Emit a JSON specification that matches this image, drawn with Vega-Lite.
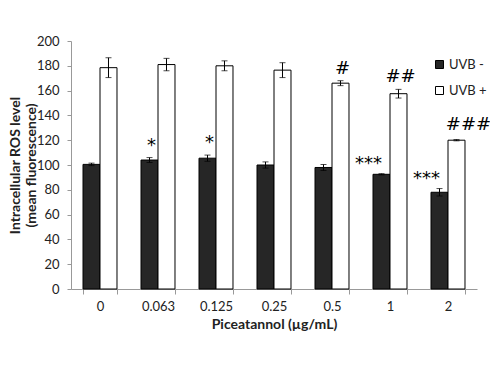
{
  "$schema": "https://vega.github.io/schema/vega-lite/v6.json",
  "autosize": {"type": "none"},
  "padding": {"left": 71, "top": 41, "right": 13, "bottom": 80},
  "width": 406,
  "height": 248,
  "background": "white",
  "config": {
    "font": "Lato",
    "view": {"stroke": null},
    "axis": {"grid": false, "labelFont": "Lato", "titleFont": "Lato", "labelColor": "#222", "titleColor": "#222", "domainColor": "#999", "tickColor": "#999", "labelOverlap": false}
  },
  "data": {
    "values": [
      {"conc": "0", "uvb": "UVB -", "mean": 100.5, "lo": 99.5, "hi": 101.5, "sig": ""},
      {"conc": "0.063", "uvb": "UVB -", "mean": 104, "lo": 102, "hi": 106, "sig": "*"},
      {"conc": "0.125", "uvb": "UVB -", "mean": 105.5, "lo": 103, "hi": 108, "sig": "*"},
      {"conc": "0.25", "uvb": "UVB -", "mean": 100, "lo": 97.5, "hi": 102.5, "sig": ""},
      {"conc": "0.5", "uvb": "UVB -", "mean": 98, "lo": 95.6, "hi": 100.4, "sig": ""},
      {"conc": "1", "uvb": "UVB -", "mean": 92.5, "lo": 92, "hi": 93, "sig": "***"},
      {"conc": "2", "uvb": "UVB -", "mean": 78, "lo": 75, "hi": 81, "sig": "***"},
      {"conc": "0", "uvb": "UVB +", "mean": 178.5, "lo": 170.5, "hi": 186.5, "sig": ""},
      {"conc": "0.063", "uvb": "UVB +", "mean": 181, "lo": 176, "hi": 186, "sig": ""},
      {"conc": "0.125", "uvb": "UVB +", "mean": 180, "lo": 176, "hi": 184, "sig": ""},
      {"conc": "0.25", "uvb": "UVB +", "mean": 176.5, "lo": 170.5, "hi": 182.5, "sig": ""},
      {"conc": "0.5", "uvb": "UVB +", "mean": 166, "lo": 164, "hi": 168, "sig": "#"},
      {"conc": "1", "uvb": "UVB +", "mean": 157.5, "lo": 154, "hi": 161, "sig": "##"},
      {"conc": "2", "uvb": "UVB +", "mean": 120, "lo": 119.5, "hi": 120.5, "sig": "###"}
    ]
  },
  "encoding": {
    "x": {
      "field": "conc", "type": "nominal", "sort": ["0", "0.063", "0.125", "0.25", "0.5", "1", "2"],
      "scale": {"paddingInner": 0.414, "paddingOuter": 0.207},
      "axis": {"title": "Piceatannol (µg/mL)", "labelAngle": 0, "labelFontSize": 13, "labelPadding": 6, "tickBand": "extent", "tickSize": 5, "titleFontSize": 14, "titleFontWeight": "bold", "titlePadding": 4}
    },
    "xOffset": {"field": "uvb", "type": "nominal", "sort": ["UVB -", "UVB +"], "scale": {"paddingInner": 0, "paddingOuter": 0}}
  },
  "layer": [
    {
      "mark": {"type": "bar", "stroke": "black", "strokeWidth": 1},
      "encoding": {
        "y": {
          "field": "mean", "type": "quantitative",
          "scale": {"domain": [0, 200], "nice": false},
          "axis": {"values": [0, 20, 40, 60, 80, 100, 120, 140, 160, 180, 200], "tickCount": 11, "labelOverlap": false, "labelBound": false, "labelFontSize": 13, "tickSize": 4, "labelPadding": 8, "title": ["Intracellular ROS level", "(mean fluorescence)"], "titleFontSize": 14, "titleFontWeight": "bold", "titleX": -49, "titleLineHeight": 16}
        },
        "fill": {
          "field": "uvb", "type": "nominal", "sort": ["UVB -", "UVB +"],
          "scale": {"domain": ["UVB -", "UVB +"], "range": ["#262626", "#ffffff"]},
          "legend": {"title": null, "orient": "none", "legendX": 362, "legendY": 17, "symbolType": "square", "symbolSize": 64, "symbolStrokeColor": "black", "symbolStrokeWidth": 1, "labelFontSize": 13, "labelColor": "#222", "rowPadding": 12, "labelOffset": 3}
        }
      }
    },
    {
      "mark": {"type": "rule", "color": "black", "strokeWidth": 1},
      "encoding": {"y": {"field": "lo", "type": "quantitative"}, "y2": {"field": "hi"}}
    },
    {
      "mark": {"type": "tick", "color": "black", "thickness": 1, "size": 6},
      "encoding": {"y": {"field": "hi", "type": "quantitative"}}
    },
    {
      "mark": {"type": "tick", "color": "black", "thickness": 1, "size": 6},
      "encoding": {"y": {"field": "lo", "type": "quantitative"}}
    },
    {
      "transform": [{"filter": "datum.sig == '*' || datum.sig == '#' || datum.sig == '##'"}],
      "mark": {"type": "text", "baseline": "bottom", "dy": -3, "dx": 2, "fontSize": 18, "color": "black", "font": "DejaVu Sans"},
      "encoding": {"y": {"field": "hi", "type": "quantitative"}, "text": {"field": "sig"}}
    },
    {
      "transform": [{"filter": "datum.sig == '***'"}],
      "mark": {"type": "text", "baseline": "bottom", "dy": -1, "dx": -13, "fontSize": 18, "color": "black", "font": "DejaVu Sans"},
      "encoding": {"y": {"field": "hi", "type": "quantitative"}, "text": {"field": "sig"}}
    },
    {
      "transform": [{"filter": "datum.sig == '###'"}],
      "mark": {"type": "text", "baseline": "bottom", "dy": -6, "dx": 12, "fontSize": 18, "color": "black", "font": "DejaVu Sans"},
      "encoding": {"y": {"field": "hi", "type": "quantitative"}, "text": {"field": "sig"}}
    }
  ]
}
